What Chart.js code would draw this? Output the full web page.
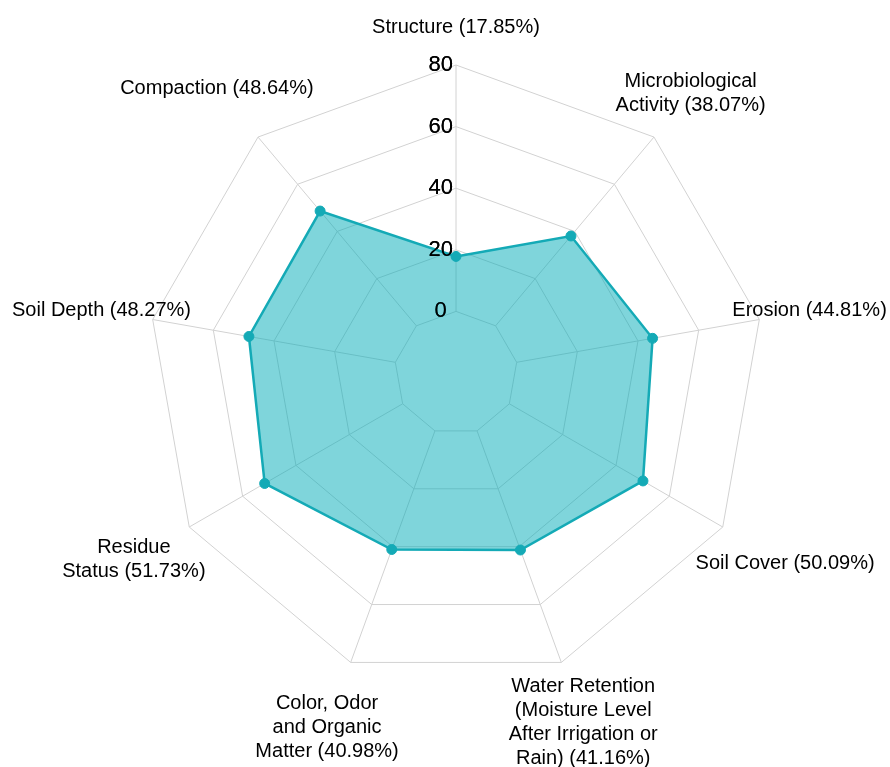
<!DOCTYPE html>
<html>
<head>
<meta charset="utf-8">
<script src="https://cdn.jsdelivr.net/npm/chart.js@4/dist/chart.umd.min.js"></script>
<style>
  html, body { margin: 0; padding: 0; background: #ffffff; }
  #wrap { position: relative; width: 890px; height: 767px; overflow: hidden; }
</style>
</head>
<body>
<div id="wrap"><canvas id="c"></canvas></div>
<script>
// ---- data ----
const categories = [
  'Structure (17.85%)',
  ['Microbiological', 'Activity (38.07%)'],
  'Erosion (44.81%)',
  'Soil Cover (50.09%)',
  ['Water Retention', '(Moisture Level', 'After Irrigation or', 'Rain) (41.16%)'],
  ['Color, Odor', 'and Organic', 'Matter (40.98%)'],
  ['Residue', 'Status (51.73%)'],
  'Soil Depth (48.27%)',
  'Compaction (48.64%)'
];
const values = [17.85, 38.07, 44.81, 50.09, 41.16, 40.98, 51.73, 48.27, 48.64];
const tickLabels = ['0', '20', '40', '60', '80'];
const tickValues = [0, 20, 40, 60, 80];

// ---- layout / style ----
const holeMin = -20;          // radial axis starts below 0 to leave a hole in the middle
const labelGap = [38, 57, 51, 72, 64, 69, 64, 52, 64];   // distance of category labels beyond the outer ring
const lineColor = 'rgb(20,170,182)';
const fillColor = 'rgba(0,172,184,0.5)';
const gridColor = 'rgb(210,210,210)';

const overlayPlugin = {
  id: 'overlay',
  afterDatasetsDraw(chart) {
    const s = chart.scales.r;
    s.drawLabels();   // tick labels on top of the filled area
    const ctx = chart.ctx;
    ctx.save();
    ctx.font = '20px "Liberation Sans", Arial, sans-serif';
    ctx.fillStyle = '#000';
    ctx.textAlign = 'center';
    ctx.textBaseline = 'middle';
    const lh = 24;
    categories.forEach((lab, i) => {
      const lines = Array.isArray(lab) ? lab : [lab];
      const p = s.getPointPosition(i, s.drawingArea + labelGap[i]);
      lines.forEach((t, k) => {
        ctx.fillText(t, p.x, p.y + (k - (lines.length - 1) / 2) * lh);
      });
    });
    ctx.restore();
  }
};

new Chart(document.getElementById('c'), {
  type: 'radar',
  data: {
    labels: categories,
    datasets: [{
      data: values,
      borderColor: lineColor,
      backgroundColor: fillColor,
      borderWidth: 2.5,
      pointRadius: 5,
      pointBackgroundColor: lineColor,
      pointBorderColor: lineColor,
      pointBorderWidth: 1,
      fill: 'start'
    }]
  },
  options: {
    responsive: true,
    maintainAspectRatio: false,
    animation: false,
    layout: { padding: { left: 137, right: 115, top: 54, bottom: 75 } },
    plugins: { legend: { display: false }, tooltip: { enabled: false } },
    scales: {
      r: {
        min: holeMin,
        max: 80,
        ticks: {
          stepSize: 20,
          showLabelBackdrop: false,
          backdropPadding: 0,
          color: '#000',
          font: { size: 22, family: '"Liberation Sans", Arial, sans-serif' },
          callback: (v) => {
            const k = tickValues.indexOf(v);
            return k < 0 ? '' : tickLabels[k] + '     ';
          }
        },
        grid: { color: gridColor, lineWidth: 1, circular: false },
        angleLines: {
          color: gridColor,
          lineWidth: 1,
          borderDash: (c) => {
            const s = c.chart.scales.r;
            const h = s.getDistanceFromCenterForValue(0);
            return [s.drawingArea - h, h];
          },
          borderDashOffset: (c) => {
            const s = c.chart.scales.r;
            return s.drawingArea - s.getDistanceFromCenterForValue(0);
          }
        },
        pointLabels: { display: false }
      }
    }
  },
  plugins: [overlayPlugin]
});
</script>
</body>
</html>
